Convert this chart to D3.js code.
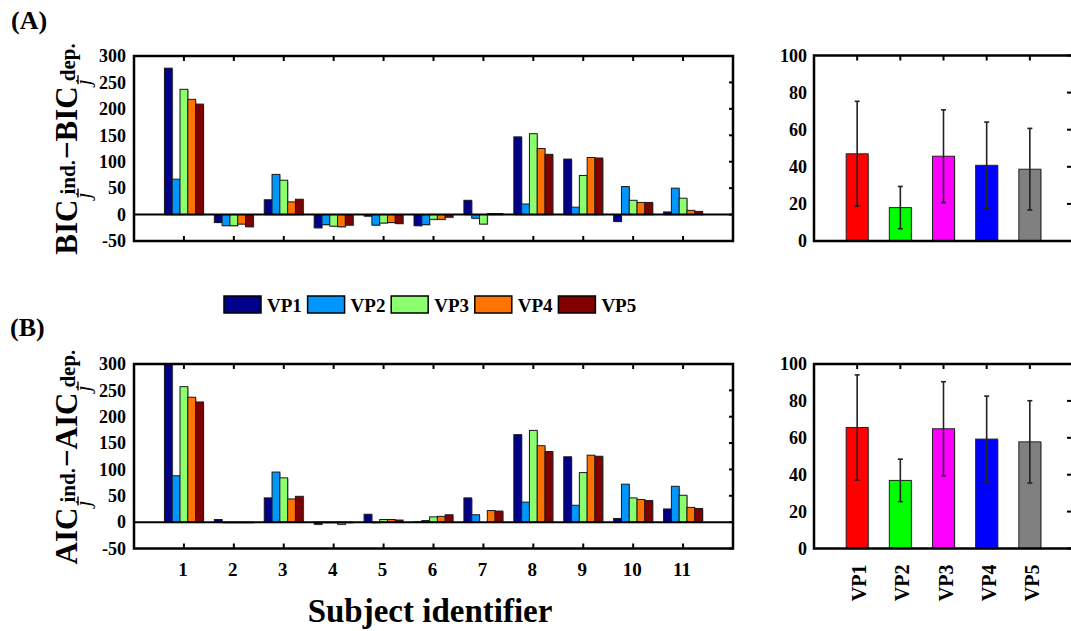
<!DOCTYPE html>
<html><head><meta charset="utf-8">
<script src="https://cdn.jsdelivr.net/npm/d3@7"></script>
<style>
body{margin:0;background:#fff}
text{font-family:"Liberation Serif","Times New Roman",serif;font-weight:bold;fill:#000}
</style>
</head><body>
<svg id="c" width="1071" height="631"></svg>
<script>
// ---------------- data ----------------
const subjects = [1,2,3,4,5,6,7,8,9,10,11];
const seriesNames = ["VP1","VP2","VP3","VP4","VP5"];
const seriesColors = ["#000088","#0096ff","#8cff6e","#ff7300","#800000"];

// (A) BIC differences per subject
const bicVP1 = [277, -15, 28, -25, -3, -21, 27, 147, 105, -13, 5];
const bicVP2 = [67, -21, 76, -19, -20, -19, -7, 20, 14, 53, 50];
const bicVP3 = [237, -21, 65, -22, -16, -9, -18, 153, 74, 27, 31];
const bicVP4 = [218, -18, 24, -23, -15, -9, 2, 125, 108, 23, 8];
const bicVP5 = [209, -23, 29, -20, -17, -5, 2, 114, 107, 23, 6];

// (B) AIC differences per subject
const aicVP1 = [310, 5, 46, -4, 15, 0.5, 46, 166, 124, 7, 25];
const aicVP2 = [88, -1, 95, -1, -1, 3, 14, 38, 32, 72, 68];
const aicVP3 = [257, -1, 84, -1, 5, 10, 0, 174, 94, 46, 51];
const aicVP4 = [237, -1, 44, -4, 5, 11, 22, 145, 127, 43, 28];
const aicVP5 = [228, -1, 49, -1, 4, 14, 21, 134, 125, 41, 26];

// summary panels
const summaryColors = ["#ff0000","#00ff00","#ff00ff","#0000ff","#808080"];
const bicMean = [47, 18, 45.7, 40.8, 38.7];
const bicSd   = [28.3, 11.4, 25, 23.3, 22];
const aicMean = [65.6, 36.9, 64.9, 59.3, 57.8];
const aicSd   = [28.5, 11.5, 25.5, 23.3, 22.3];

const yTicksLeft  = [-50, 0, 50, 100, 150, 200, 250, 300];
const yTicksRight = [0, 20, 40, 60, 80, 100];

// ---------------- drawing ----------------
const svg = d3.select("#c");

function subjectPanel(values, top, bottom, showX, id) {
  const x = d3.scaleLinear().domain([0, 12]).range([134, 733]);
  const y = d3.scaleLinear().domain([-50, 300]).range([bottom, top]);
  const band = d3.scaleBand().domain(seriesNames).range([-19.5, 19.5]).padding(0);
  const g = svg.append("g");
  g.append("clipPath").attr("id", id).append("rect")
    .attr("x", x(0)).attr("y", y(300)).attr("width", x(12) - x(0)).attr("height", y(-50) - y(300));
  const bars = g.append("g").attr("clip-path", `url(#${id})`);
  seriesNames.forEach((s, si) => {
    const vals = values[si];
    const sel = bars.selectAll(null).data(subjects.map((d, i) => ({subj: d, v: vals[i]}))).enter();
    sel.append("rect")
      .attr("x", d => x(d.subj) + band(s) + 1)
      .attr("y", d => Math.min(y(d.v), y(0)) + 1)
      .attr("width", band.bandwidth())
      .attr("height", d => Math.abs(y(d.v) - y(0)))
      .attr("fill", "#b8b8b8");
    sel.append("rect")
      .attr("x", d => x(d.subj) + band(s))
      .attr("y", d => Math.min(y(d.v), y(0)))
      .attr("width", band.bandwidth())
      .attr("height", d => Math.abs(y(d.v) - y(0)))
      .attr("fill", seriesColors[si])
      .attr("stroke", "#1a1a1a").attr("stroke-width", 1);
  });
  // zero line
  g.append("line").attr("x1", x(0)).attr("x2", x(12)).attr("y1", y(0)).attr("y2", y(0))
    .attr("stroke", "#000").attr("stroke-width", 2);
  // ticks
  subjects.forEach(s => {
    g.append("line").attr("x1", x(s)).attr("x2", x(s)).attr("y1", y(300)).attr("y2", y(300) + 5)
      .attr("stroke", "#000").attr("stroke-width", 2);
    g.append("line").attr("x1", x(s)).attr("x2", x(s)).attr("y1", y(-50)).attr("y2", y(-50) - 5)
      .attr("stroke", "#000").attr("stroke-width", 2);
  });
  yTicksLeft.forEach(t => {
    g.append("line").attr("x1", x(12)).attr("x2", x(12) - 4).attr("y1", y(t)).attr("y2", y(t))
      .attr("stroke", "#000").attr("stroke-width", 2);
    g.append("text").attr("x", 126).attr("y", y(t)).attr("dy", "0.35em")
      .attr("text-anchor", "end").style("font-size", "18px").text(t);
  });
  g.append("rect").attr("x", x(0)).attr("y", y(300)).attr("width", x(12) - x(0)).attr("height", y(-50) - y(300))
    .attr("fill", "none").attr("stroke", "#000").attr("stroke-width", 2.5);
  if (showX) {
    subjects.forEach(s => {
      g.append("text").attr("x", x(s) - 1).attr("y", y(-50) + 27).attr("text-anchor", "middle")
        .style("font-size", "19px").text(s);
    });
  }
  return {x, y};
}

function summaryPanel(mean, sd, top, bottom, showX) {
  const x = d3.scaleLinear().domain([0, 6]).range([814, 1073]);
  const y = d3.scaleLinear().domain([0, 100]).range([bottom, top]);
  const g = svg.append("g");
  const bw = 22;
  const data = seriesNames.map((s, i) => ({s, i, m: mean[i], sd: sd[i]}));
  g.selectAll(null).data(data).enter().append("rect")
    .attr("x", d => x(d.i + 1) - bw / 2 + 1).attr("y", d => y(d.m) + 1)
    .attr("width", bw).attr("height", d => y(0) - y(d.m)).attr("fill", "#b8b8b8");
  g.selectAll(null).data(data).enter().append("rect")
    .attr("x", d => x(d.i + 1) - bw / 2).attr("y", d => y(d.m))
    .attr("width", bw).attr("height", d => y(0) - y(d.m))
    .attr("fill", d => summaryColors[d.i]).attr("stroke", "#222").attr("stroke-width", 1);
  const eb = g.selectAll(null).data(data).enter().append("g");
  eb.append("line").attr("x1", d => x(d.i + 1)).attr("x2", d => x(d.i + 1))
    .attr("y1", d => y(d.m - d.sd)).attr("y2", d => y(d.m + d.sd))
    .attr("stroke", "#222").attr("stroke-width", 1.6);
  [1, -1].forEach(k => {
    eb.append("line").attr("x1", d => x(d.i + 1) - 2.5).attr("x2", d => x(d.i + 1) + 2.5)
      .attr("y1", d => y(d.m + k * d.sd)).attr("y2", d => y(d.m + k * d.sd))
      .attr("stroke", "#222").attr("stroke-width", 1.6);
  });
  // frame (left, top, bottom)
  g.append("path").attr("d", `M${x(6)},${y(100)}H${x(0)}V${y(0)}H${x(6)}`)
    .attr("fill", "none").attr("stroke", "#000").attr("stroke-width", 2.5);
  data.forEach(d => {
    g.append("line").attr("x1", x(d.i + 1)).attr("x2", x(d.i + 1)).attr("y1", y(100)).attr("y2", y(100) + 5)
      .attr("stroke", "#000").attr("stroke-width", 2);
  });
  yTicksRight.forEach(t => {
    g.append("line").attr("x1", 1071).attr("x2", 1067).attr("y1", y(t)).attr("y2", y(t))
      .attr("stroke", "#000").attr("stroke-width", 2);
    g.append("text").attr("x", 807).attr("y", y(t)).attr("dy", "0.35em")
      .attr("text-anchor", "end").style("font-size", "18px").text(t);
  });
  if (showX) {
    data.forEach(d => {
      g.append("text").attr("transform", `translate(${x(d.i + 1) + 9},${y(0) + 16}) rotate(-90)`)
        .attr("text-anchor", "end").style("font-size", "20px").text(d.s);
    });
  }
}

function yLabel(main, supA, supB, bx, cy) {
  const g = svg.append("g");
  const inner = g.append("g");
  let pos = 0;
  const t1 = inner.append("text").attr("x", pos).attr("y", 0).style("font-size", "31px").text(main);
  pos += t1.node().getComputedTextLength() + 1;
  function subGroup(sup) {
    const start = pos;
    inner.append("text").attr("x", start).attr("y", 13)
      .style("font-size", "22px").style("font-style", "italic").style("font-weight", "normal").text("j");
    inner.append("line").attr("x1", start + 1).attr("x2", start + 10).attr("y1", 1).attr("y2", 1)
      .attr("stroke", "#000").attr("stroke-width", 1.4);
    const s = inner.append("text").attr("x", start + 4).attr("y", -2).style("font-size", "21px").text(sup);
    pos = start + 4 + s.node().getComputedTextLength();
  }
  subGroup(supA);
  pos += 1;
  const t2 = inner.append("text").attr("x", pos).attr("y", 0).style("font-size", "31px").text("\u2212" + main);
  pos += t2.node().getComputedTextLength() + 1;
  subGroup(supB);
  const total = pos;
  g.attr("transform", `translate(${bx},${cy + total / 2}) rotate(-90)`);
}

subjectPanel([bicVP1, bicVP2, bicVP3, bicVP4, bicVP5], 56, 241, false, "clipA");
subjectPanel([aicVP1, aicVP2, aicVP3, aicVP4, aicVP5], 364, 548.5, true, "clipB");
summaryPanel(bicMean, bicSd, 55.5, 241, false);
summaryPanel(aicMean, aicSd, 364, 548.5, true);

yLabel("BIC", "ind.", "dep.", 77, 149);
yLabel("AIC", "ind.", "dep.", 77, 457);

// panel letters
svg.append("text").attr("x", 11).attr("y", 29).style("font-size", "26px").text("(A)");
svg.append("text").attr("x", 10).attr("y", 336).style("font-size", "26px").text("(B)");

// x title
svg.append("text").attr("x", 430).attr("y", 622).attr("text-anchor", "middle")
  .style("font-size", "33px").text("Subject identifier");

// legend
const leg = svg.append("g");
seriesNames.forEach((s, i) => {
  const lx = 224 + i * 83.6;
  leg.append("rect").attr("x", lx).attr("y", 296).attr("width", 37).attr("height", 17)
    .attr("fill", seriesColors[i]).attr("stroke", "#000").attr("stroke-width", 1.5);
  leg.append("text").attr("x", lx + 43).attr("y", 311.5).style("font-size", "19px").text(s);
});
</script>
</body></html>
